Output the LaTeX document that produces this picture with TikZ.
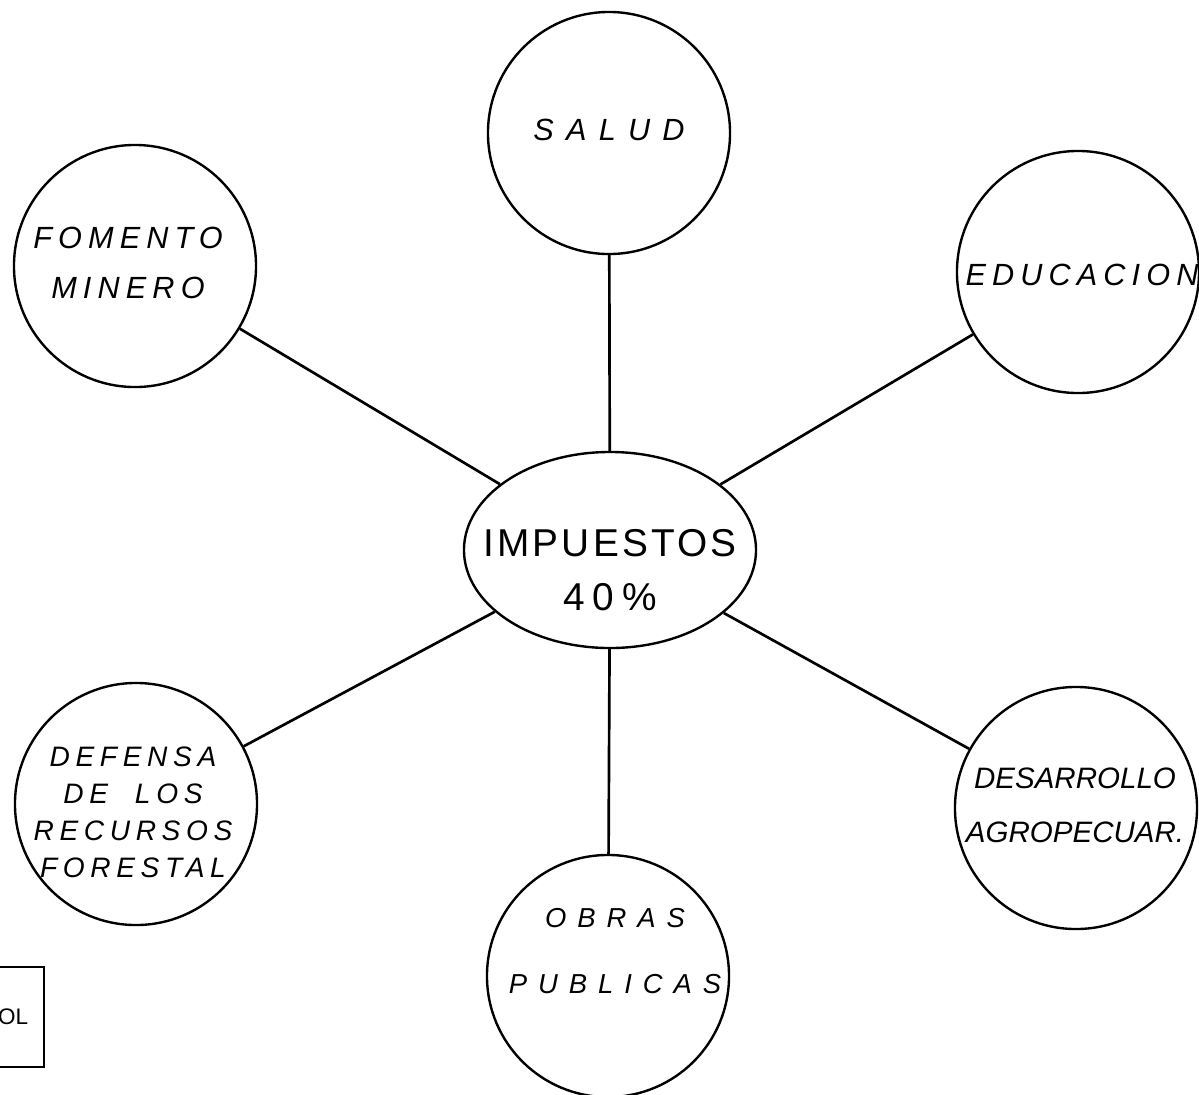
\documentclass[tikz,border=0pt]{standalone}
\usepackage{fontspec}
\setmainfont{Liberation Sans}
\usetikzlibrary{shapes.geometric}
\begin{document}
\begin{tikzpicture}[x = 0.025cm, y = -0.025cm,
		circ/.style = {draw, circle, line width = 1.7pt, minimum size = 6.05cm, inner sep = 0pt},
		hub/.style = {draw, ellipse, line width = 1.7pt, minimum width = 7.3cm, minimum height = 4.9cm, inner sep = 0pt},
		link/.style = {line width = 1.9pt},
		lbl/.style n args = {3}{font = \fontsize{#1}{#2}\selectfont\itshape\addfontfeature{LetterSpace = #3}, align = center}]
	% page
	\useasboundingbox (0, 0) rectangle (1199, 1094);
	% the centre
	\node[hub] (imp) at (610, 550) {};
	\node[font = \fontsize{27.6}{38.4}\selectfont\addfontfeature{LetterSpace = 8}, align = center] (imp-t) at (610, 570)
		{IMPUESTOS\\{\addfontfeature{LetterSpace = 20}40\%}};
	% the six areas
	\node[circ] (salud)   at (609,  133) {};
	\node[circ] (fomento) at (135,  266) {};
	\node[circ] (educ)    at (1078, 272) {};
	\node[circ] (defensa) at (136,  804) {};
	\node[circ] (desarr)  at (1076, 808) {};
	\node[circ] (obras)   at (608,  976) {};
	% their texts
	\node[lbl = {21.8}{26}{40}]   (salud-t)   at (609,  130) {SALUD};
	\node[lbl = {21.8}{35.6}{20}] (fomento-t) at (128,  263) {FOMENTO\\MINERO};
	\node[lbl = {21.8}{26}{20}]   (educ-t)    at (1082, 275) {EDUCACION};
	\node[lbl = {20}{26.3}{20}]   (defensa-t) at (133,  812) {DEFENSA\\DE\ \ LOS\\RECURSOS\\FORESTAL};
	\node[lbl = {21}{38.4}{0}]    (desarr-t)  at (1075, 805) {DESARROLLO\\AGROPECUAR.};
	\node[lbl = {19.5}{47}{40}]   (obras-t)   at (615,  951) {OBRAS\\PUBLICAS};
	% lines
	\draw[link] (imp) -- (salud);
	\draw[link] (imp) -- (fomento);
	\draw[link] (imp) -- (educ);
	\draw[link] (imp) -- (defensa);
	\draw[link] (imp) -- (desarr);
	\draw[link] (imp) -- (obras);
	% the box cut by the page edge
	\node[draw, line width = 1.2pt, anchor = east, minimum height = 2.5cm, inner xsep = 0.4cm,
		font = \fontsize{16}{18}\selectfont] (olbox) at (45, 1017) {OL};
\end{tikzpicture}
\end{document}
